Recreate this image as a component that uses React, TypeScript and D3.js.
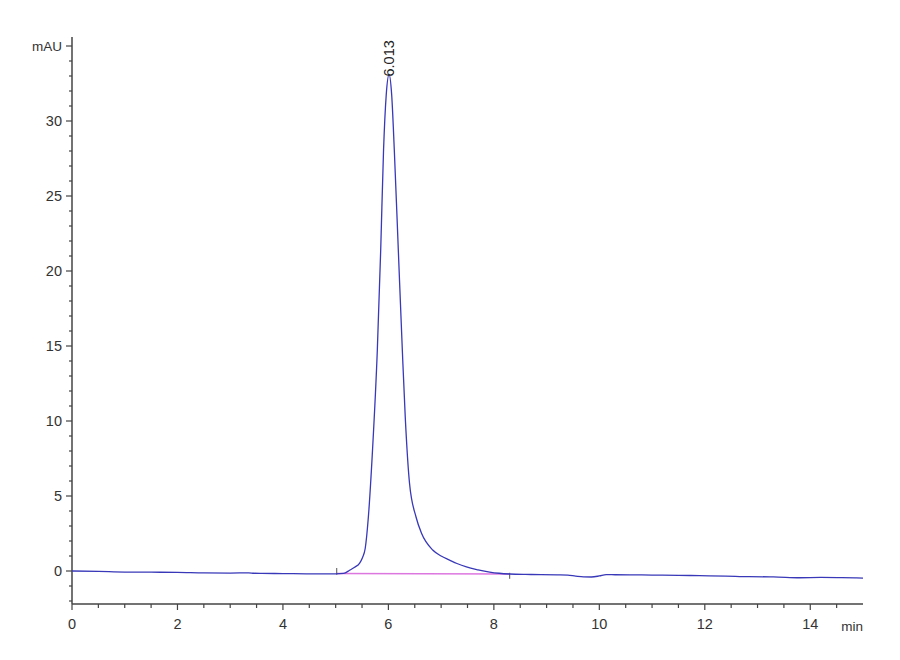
import React, { useEffect, useRef } from 'react';
import * as d3 from 'd3';

// retention time (min) and absorbance (mAU)
const times = [
  0, 0.5, 1.0, 1.5, 2.0, 2.5, 3.0, 3.35, 3.45, 3.6, 4.0, 4.5, 5.0, 5.15,
  5.265, 5.36, 5.455, 5.51, 5.56, 5.62, 5.699, 5.79, 5.854, 5.908, 5.958, 6.013,
  6.063, 6.112, 6.188, 6.264, 6.319, 6.4, 6.524, 6.63, 6.84, 7.0, 7.16, 7.3,
  7.48, 7.7, 7.92, 8.1, 8.3, 8.6, 8.9, 9.2, 9.4, 9.55, 9.7, 9.85, 10.0, 10.13,
  10.3, 10.6, 11.0, 11.5, 11.9, 12.4, 12.84, 13.3, 13.8, 14.2, 14.6, 14.85, 15.0,
];
const signal = [
  0.0, -0.03, -0.07, -0.08, -0.09, -0.13, -0.14, -0.12, -0.15, -0.16, -0.17, -0.19, -0.19, -0.16,
  0.05, 0.25, 0.53, 0.9, 1.5, 3.6, 8.07, 14.73, 21.4, 28.07, 31.7, 33.1,
  31.7, 28.07, 21.4, 14.73, 10.3, 5.87, 3.6, 2.5, 1.4, 1.0, 0.73, 0.5,
  0.27, 0.08, -0.07, -0.15, -0.2, -0.23, -0.24, -0.26, -0.28, -0.34, -0.39, -0.4, -0.33, -0.24,
  -0.25, -0.26, -0.27, -0.29, -0.31, -0.34, -0.38, -0.39, -0.45, -0.43, -0.44, -0.46, -0.48,
];

// integration baseline of the peak
const baseTimes = [5.02, 8.3];
const baseValues = [-0.17, -0.2];

const peakLabel = '6.013';
const peakTime = 6.013;
const peakHeight = 33.1;

const xMajor = [0, 2, 4, 6, 8, 10, 12, 14];
const yMajor = [0, 5, 10, 15, 20, 25, 30];

const W = 900;
const H = 660;

export default function App() {
  const svgRef = useRef<SVGSVGElement>(null);

  useEffect(() => {
    if (!svgRef.current) return;
    const svg = d3.select(svgRef.current);
    svg.selectAll('*').remove();

    const x = d3.scaleLinear().domain([0, 15]).range([72, 863]);
    const y = d3.scaleLinear().domain([-2.2, 35]).range([604, 46]);
    const axisColor = '#444';
    const font = '"Liberation Sans", Arial, sans-serif';

    svg.append('rect').attr('width', W).attr('height', H).attr('fill', '#fff');

    // y axis
    const gy = svg.append('g');
    gy.append('line')
      .attr('x1', x(0)).attr('x2', x(0))
      .attr('y1', 37).attr('y2', y(-2.2))
      .attr('stroke', axisColor).attr('stroke-width', 1.5);
    d3.range(-2, 36).forEach(v => {
      const major = v % 5 === 0 && v >= 0;
      gy.append('line')
        .attr('x1', x(0) - (major ? 6 : 3)).attr('x2', x(0))
        .attr('y1', y(v)).attr('y2', y(v))
        .attr('stroke', axisColor).attr('stroke-width', 1.2);
    });
    gy.selectAll('text.ylab')
      .data(yMajor)
      .enter()
      .append('text')
      .attr('x', x(0) - 10)
      .attr('y', d => y(d))
      .attr('dy', '0.36em')
      .attr('text-anchor', 'end')
      .attr('font-family', font)
      .attr('font-size', 14.5)
      .attr('fill', '#333')
      .text(d => d);
    gy.append('text')
      .attr('x', x(0) - 10)
      .attr('y', y(35))
      .attr('dy', '0.36em')
      .attr('text-anchor', 'end')
      .attr('font-family', font)
      .attr('font-size', 13.5)
      .attr('fill', '#333')
      .text('mAU');

    // x axis
    const gx = svg.append('g');
    gx.append('line')
      .attr('x1', x(0)).attr('x2', x(15))
      .attr('y1', y(-2.2)).attr('y2', y(-2.2))
      .attr('stroke', axisColor).attr('stroke-width', 1.5);
    d3.range(0, 15, 0.5).forEach(v => {
      const major = v % 2 === 0;
      gx.append('line')
        .attr('x1', x(v)).attr('x2', x(v))
        .attr('y1', y(-2.2)).attr('y2', y(-2.2) + (major ? 6 : 4))
        .attr('stroke', axisColor).attr('stroke-width', 1.2);
    });
    gx.selectAll('text.xlab')
      .data(xMajor)
      .enter()
      .append('text')
      .attr('x', d => x(d))
      .attr('y', 629)
      .attr('text-anchor', 'middle')
      .attr('font-family', font)
      .attr('font-size', 14.5)
      .attr('fill', '#333')
      .text(d => d);
    gx.append('text')
      .attr('x', 863)
      .attr('y', 631)
      .attr('text-anchor', 'end')
      .attr('font-family', font)
      .attr('font-size', 13.5)
      .attr('fill', '#333')
      .text('min');

    // integration baseline + start/end marks
    const baseData = baseTimes.map((t, i) => [t, baseValues[i]] as [number, number]);
    svg.append('path')
      .attr('d', d3.line<[number, number]>().x(d => x(d[0])).y(d => y(d[1]))(baseData) || '')
      .attr('fill', 'none')
      .attr('stroke', '#dd77e0')
      .attr('stroke-width', 1.4);
    svg.append('line')
      .attr('x1', x(baseTimes[0])).attr('x2', x(baseTimes[0]))
      .attr('y1', y(0.2)).attr('y2', y(-0.25))
      .attr('stroke', '#555').attr('stroke-width', 1);
    svg.append('line')
      .attr('x1', x(baseTimes[1])).attr('x2', x(baseTimes[1]))
      .attr('y1', y(-0.12)).attr('y2', y(-0.52))
      .attr('stroke', '#555').attr('stroke-width', 1);

    // chromatogram trace
    const trace = times.map((t, i) => [t, signal[i]] as [number, number]);
    svg.append('path')
      .attr('d', d3.line<[number, number]>()
        .x(d => x(d[0]))
        .y(d => y(d[1]))
        .curve(d3.curveMonotoneX)(trace) || '')
      .attr('fill', 'none')
      .attr('stroke', '#3838b8')
      .attr('stroke-width', 1.3);

    // peak label
    const lx = x(peakTime) + 5;
    const ly = y(peakHeight) + 2;
    svg.append('text')
      .attr('transform', `translate(${lx},${ly}) rotate(-90)`)
      .attr('font-family', font)
      .attr('font-size', 14.5)
      .attr('fill', '#222')
      .text(peakLabel);
  }, []);

  return (
    <div style={{ position: 'absolute', left: 0, top: 0 }}>
      <svg ref={svgRef} width={W} height={H} style={{ display: 'block' }} />
    </div>
  );
}
